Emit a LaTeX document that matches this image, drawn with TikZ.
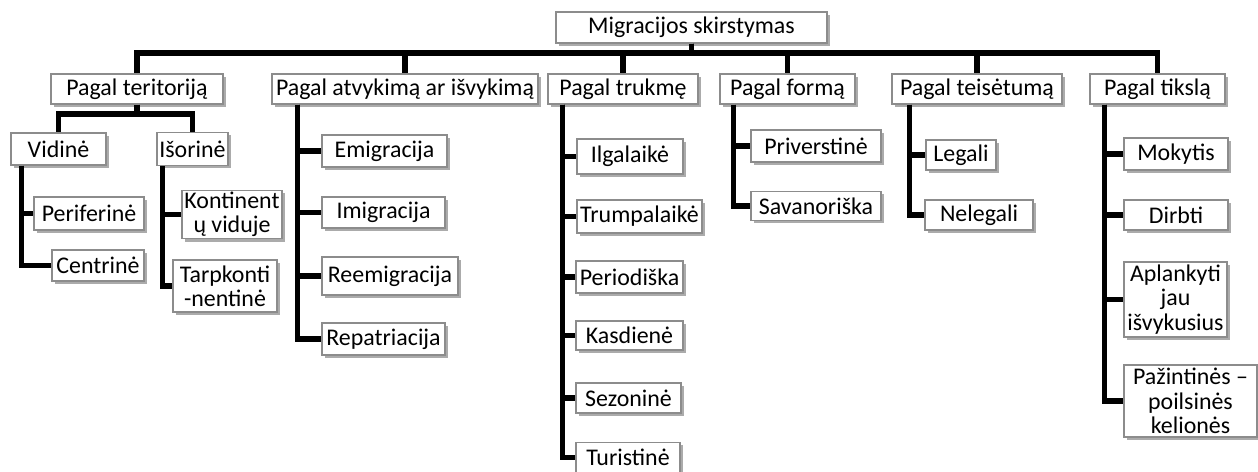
\documentclass[tikz,border=0pt]{standalone}
\usepackage{fontspec}
\setmainfont{Carlito}
\usetikzlibrary{positioning,shadows}
\definecolor{boxline}{HTML}{8C8C8C}
\definecolor{shade}{HTML}{ABABAB}

\begin{document}
\begin{tikzpicture}[
    every node/.style={font=\fontsize{13.6}{13.8}\selectfont},
    catBox/.style={rectangle, draw=boxline, line width=0.6pt, fill=white, inner sep=1pt, align=center,
        minimum height=0.6cm, drop shadow={shadow xshift=0.05cm, shadow yshift=-0.06cm, fill=shade, opacity=1}},
    link/.style={line width=2.9pt, draw=black}
]
    \useasboundingbox (0,0) rectangle (25.16,9.44);

    % Šaknis
    \node[catBox, minimum width=5.42cm, minimum height=0.62cm] (root) at (13.83, 8.89) {Migracijos skirstymas};
    \coordinate (bus) at (0, 8.38);

    % Pirmas lygis
    \node[catBox, minimum width=3.44cm] (teritorija) at (2.74, 7.66) {Pagal teritoriją};
    \node[catBox, minimum width=5.32cm] (atvykimas) at (8.10, 7.66) {Pagal atvykimą ar išvykimą};
    \node[catBox, minimum width=3.00cm] (trukme) at (12.46, 7.66) {Pagal trukmę};
    \node[catBox, minimum width=2.70cm] (forma) at (15.75, 7.66) {Pagal formą};
    \node[catBox, minimum width=3.40cm] (teisetumas) at (19.54, 7.66) {Pagal teisėtumą};
    \node[catBox, minimum width=2.70cm] (tikslas) at (23.15, 7.66) {Pagal tikslą};

    \draw[link] (root.south) |- (bus -| teritorija.north) -- (teritorija.north);
    \draw[link] (root.south) |- (bus -| atvykimas.north) -- (atvykimas.north);
    \draw[link] (root.south) |- (bus -| trukme.north) -- (trukme.north);
    \draw[link] (root.south) |- (bus -| forma.north) -- (forma.north);
    \draw[link] (root.south) |- (bus -| teisetumas.north) -- (teisetumas.north);
    \draw[link] (root.south) |- (bus -| tikslas.north) -- (tikslas.north);

    % 1. Pagal teritoriją
    \node[catBox, minimum width=1.90cm, minimum height=0.64cm] (vidine) at (1.17, 6.46) {Vidinė};
    \node[catBox, minimum width=1.42cm, minimum height=0.66cm] (isorine) at (3.85, 6.46) {Išorinė};
    \coordinate (tbus) at (0, 7.16);
    \draw[link] (teritorija.south) |- (tbus -| vidine.north) -- (vidine.north);
    \draw[link] (teritorija.south) |- (tbus -| isorine.north) -- (isorine.north);

    \node[catBox, minimum width=2.20cm, minimum height=0.66cm] (periferine) at (1.78, 5.17) {Periferinė};
    \node[catBox, minimum width=1.84cm, minimum height=0.62cm] (centrine) at (1.96, 4.13) {Centrinė};
    \coordinate (vidTrunk) at ([xshift=0.22cm]vidine.south west);
    \draw[link] (vidTrunk) |- (periferine.west);
    \draw[link] (vidTrunk) |- (centrine.west);

    \node[catBox, minimum width=2.00cm, minimum height=0.90cm] (kontinentu) at (4.64, 5.15) {Kontinent\\ų viduje};
    \node[catBox, minimum width=2.08cm, minimum height=1.04cm] (tarpkont) at (4.50, 3.72) {Tarpkonti\\-nentinė};
    \coordinate (isoTrunk) at ([xshift=0.12cm]isorine.south west);
    \draw[link] (isoTrunk) |- (kontinentu.west);
    \draw[link] (isoTrunk) |- (tarpkont.west);

    % 2. Pagal atvykimą ar išvykimą
    \node[catBox, minimum width=2.50cm, minimum height=0.64cm] (emigracija) at (7.69, 6.42) {Emigracija};
    \node[catBox, minimum width=2.46cm, minimum height=0.62cm] (imigracija) at (7.67, 5.19) {Imigracija};
    \node[catBox, minimum width=2.72cm, minimum height=0.76cm] (reemigracija) at (7.80, 3.92) {Reemigracija};
    \node[catBox, minimum width=2.46cm, minimum height=0.64cm] (repatriacija) at (7.67, 2.66) {Repatriacija};
    \coordinate (atvTrunk) at ([xshift=0.52cm]atvykimas.south west);
    \draw[link] (atvTrunk) |- (emigracija.west);
    \draw[link] (atvTrunk) |- (imigracija.west);
    \draw[link] (atvTrunk) |- (reemigracija.west);
    \draw[link] (atvTrunk) |- (repatriacija.west);

    % 3. Pagal trukmę
    \node[catBox, minimum width=2.12cm, minimum height=0.70cm] (ilgalaike) at (12.60, 6.31) {Ilgalaikė};
    \node[catBox, minimum width=2.50cm, minimum height=0.66cm] (trumpalaike) at (12.79, 5.11) {Trumpalaikė};
    \node[catBox, minimum width=2.14cm, minimum height=0.64cm] (periodiska) at (12.59, 3.90) {Periodiška};
    \node[catBox, minimum width=2.14cm, minimum height=0.58cm] (kasdiene) at (12.59, 2.73) {Kasdienė};
    \node[catBox, minimum width=2.10cm] (sezonine) at (12.57, 1.48) {Sezoninė};
    \node[catBox, minimum width=2.08cm] (turistine) at (12.56, 0.29) {Turistinė};
    \coordinate (truTrunk) at ([xshift=0.30cm]trukme.south west);
    \draw[link] (truTrunk) |- (ilgalaike.west);
    \draw[link] (truTrunk) |- (trumpalaike.west);
    \draw[link] (truTrunk) |- (periodiska.west);
    \draw[link] (truTrunk) |- (kasdiene.west);
    \draw[link] (truTrunk) |- (sezonine.west);
    \draw[link] (truTrunk) |- (turistine.west);

    % 4. Pagal formą
    \node[catBox, minimum width=2.60cm, minimum height=0.64cm] (priverstine) at (16.32, 6.52) {Priverstinė};
    \node[catBox, minimum width=2.60cm, minimum height=0.58cm] (savanoriska) at (16.32, 5.32) {Savanoriška};
    \coordinate (forTrunk) at ([xshift=0.28cm]forma.south west);
    \draw[link] (forTrunk) |- (priverstine.west);
    \draw[link] (forTrunk) |- (savanoriska.west);

    % 5. Pagal teisėtumą
    \node[catBox, minimum width=1.40cm] (legali) at (19.22, 6.34) {Legali};
    \node[catBox, minimum width=2.16cm] (nelegali) at (19.58, 5.14) {Nelegali};
    \coordinate (teiTrunk) at ([xshift=0.36cm]teisetumas.south west);
    \draw[link] (teiTrunk) |- (legali.west);
    \draw[link] (teiTrunk) |- (nelegali.west);

    % 6. Pagal tikslą
    \node[catBox, minimum width=2.08cm, minimum height=0.64cm] (mokytis) at (23.52, 6.36) {Mokytis};
    \node[catBox, minimum width=2.08cm] (dirbti) at (23.52, 5.14) {Dirbti};
    \node[catBox, minimum width=2.06cm, minimum height=1.50cm] (aplankyti) at (23.51, 3.45) {Aplankyti\\jau\\išvykusius};
    \node[catBox, minimum width=2.66cm, minimum height=1.44cm] (pazintines) at (23.81, 1.42) {Pažintinės –\\poilsinės\\kelionės};
    \coordinate (tikTrunk) at ([xshift=0.30cm]tikslas.south west);
    \draw[link] (tikTrunk) |- (mokytis.west);
    \draw[link] (tikTrunk) |- (dirbti.west);
    \draw[link] (tikTrunk) |- (aplankyti.west);
    \draw[link] (tikTrunk) |- (pazintines.west);
\end{tikzpicture}
\end{document}
